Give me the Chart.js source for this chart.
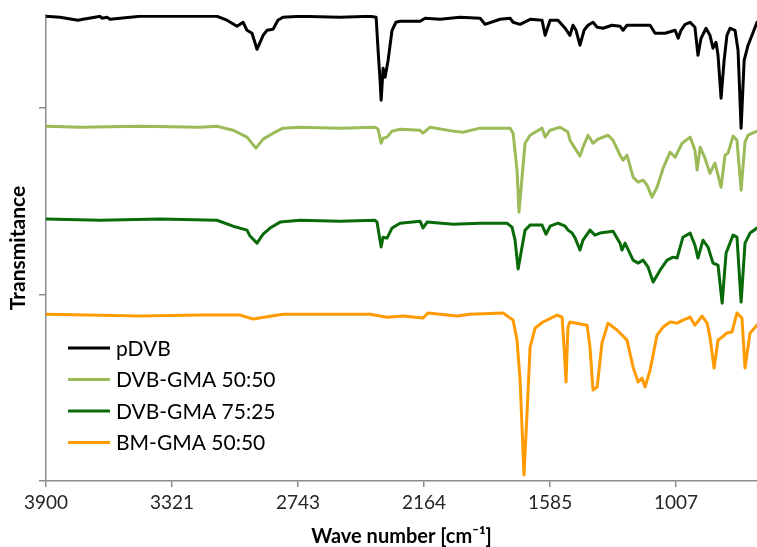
<!DOCTYPE html>
<html><head><meta charset="utf-8">
<script src="https://cdn.jsdelivr.net/npm/chart.js@4.4.1/dist/chart.umd.min.js"></script>
<style>html,body{margin:0;padding:0;background:#fff;overflow:hidden}</style>
</head><body>
<canvas id="c" width="757" height="547"></canvas>
<script>
const xTicks = [3900, 3321, 2743, 2164, 1585, 1007];
const yTicks = [0, 1, 2];
const seriesNames = ['pDVB', 'DVB-GMA 50:50', 'DVB-GMA 75:25', 'BM-GMA 50:50'];

const pDVB_wn = [3900,3836,3753,3730,3675,3652,3643,3620,3606,3468,3193,3115,3069,3023,3009,2995,2977,2954,2931,2903,2885,2857,2835,2812,2733,2550,2412,2384,2375,2366,2361,2352,2343,2329,2311,2293,2274,2182,2159,2090,1999,1907,1884,1815,1769,1755,1723,1677,1622,1608,1585,1549,1516,1494,1480,1466,1448,1429,1411,1388,1369,1342,1301,1264,1250,1232,1126,1103,1057,1011,997,984,965,942,920,906,892,869,851,837,823,814,800,786,773,759,736,722,708,694,676,658,635];
const pDVB_t = [2.493,2.488,2.472,2.477,2.488,2.493,2.483,2.488,2.477,2.493,2.493,2.493,2.472,2.440,2.450,2.461,2.418,2.402,2.316,2.391,2.418,2.424,2.472,2.488,2.493,2.488,2.493,2.488,2.311,2.150,2.043,2.214,2.166,2.257,2.418,2.461,2.466,2.466,2.483,2.477,2.488,2.483,2.450,2.477,2.483,2.461,2.450,2.477,2.472,2.391,2.472,2.472,2.429,2.391,2.445,2.418,2.338,2.418,2.445,2.461,2.434,2.429,2.445,2.440,2.418,2.445,2.445,2.402,2.402,2.418,2.375,2.418,2.450,2.461,2.434,2.284,2.375,2.429,2.391,2.322,2.354,2.284,2.054,2.257,2.391,2.429,2.418,2.311,1.893,2.257,2.338,2.391,2.461];

const g5050_wn = [3900,3744,3468,3193,3115,3041,2977,2936,2903,2857,2812,2733,2550,2389,2375,2361,2352,2334,2311,2274,2182,2169,2136,2031,1985,1907,1769,1755,1737,1728,1714,1700,1677,1622,1608,1585,1539,1516,1503,1494,1448,1434,1411,1388,1365,1319,1296,1264,1250,1232,1204,1181,1158,1140,1117,1094,1066,1034,1011,979,942,920,910,896,874,851,828,800,782,768,745,727,708,690,676,635];
const g5050_t = [1.903,1.898,1.903,1.898,1.903,1.882,1.845,1.786,1.834,1.866,1.893,1.898,1.893,1.898,1.887,1.812,1.839,1.845,1.877,1.887,1.882,1.866,1.898,1.877,1.871,1.893,1.893,1.866,1.668,1.442,1.630,1.812,1.855,1.893,1.845,1.882,1.898,1.882,1.871,1.828,1.743,1.791,1.855,1.812,1.834,1.855,1.828,1.748,1.721,1.748,1.630,1.603,1.614,1.587,1.523,1.576,1.678,1.764,1.737,1.812,1.845,1.775,1.668,1.791,1.732,1.651,1.705,1.576,1.748,1.759,1.850,1.828,1.560,1.818,1.855,1.877];

const g7525_wn = [3900,3652,3376,3115,3041,2977,2963,2931,2903,2871,2825,2733,2550,2389,2380,2361,2352,2334,2311,2274,2182,2169,2150,2031,1907,1783,1760,1746,1732,1714,1700,1677,1622,1604,1585,1549,1516,1503,1484,1470,1448,1434,1402,1379,1356,1296,1264,1255,1241,1204,1181,1158,1135,1112,1080,1048,1020,1002,975,942,920,906,883,860,837,814,795,777,768,745,727,708,690,667,635];
const g7525_t = [1.405,1.399,1.405,1.399,1.367,1.346,1.314,1.276,1.324,1.357,1.389,1.399,1.394,1.399,1.389,1.255,1.308,1.303,1.357,1.383,1.394,1.357,1.389,1.378,1.383,1.383,1.362,1.292,1.137,1.255,1.346,1.373,1.373,1.324,1.367,1.383,1.367,1.346,1.330,1.303,1.239,1.292,1.346,1.319,1.330,1.340,1.276,1.239,1.276,1.185,1.169,1.185,1.147,1.067,1.131,1.185,1.201,1.196,1.308,1.330,1.265,1.196,1.292,1.255,1.169,1.158,0.954,1.223,1.249,1.319,1.308,0.960,1.276,1.330,1.357];

const bm_wn = [3900,3468,3193,3009,2949,2812,2412,2334,2260,2169,2146,2012,1953,1801,1755,1737,1723,1705,1691,1677,1654,1618,1553,1530,1521,1512,1503,1494,1415,1402,1388,1369,1347,1319,1278,1232,1204,1181,1163,1149,1126,1094,1066,1034,1002,975,942,920,887,864,851,832,814,795,773,750,727,704,690,667,635];
const bm_t = [0.895,0.885,0.890,0.890,0.869,0.895,0.895,0.879,0.885,0.874,0.901,0.885,0.895,0.901,0.863,0.756,0.542,0.032,0.365,0.718,0.820,0.853,0.890,0.879,0.718,0.531,0.826,0.853,0.836,0.718,0.488,0.504,0.740,0.847,0.810,0.756,0.611,0.531,0.552,0.504,0.595,0.783,0.826,0.853,0.847,0.863,0.879,0.836,0.885,0.847,0.772,0.606,0.756,0.772,0.794,0.799,0.901,0.874,0.606,0.794,0.836];

const colors = ['#000000', '#9BBB59', '#086A08', '#FF9A00'];
const FONT = 'Lato, "Open Sans", sans-serif';

function pairs(xs, ys) {
  const n = Math.min(xs.length, ys.length);
  const out = [];
  for (let i = 0; i < n; i++) out.push({x: xs[i], y: ys[i]});
  return out;
}
const allSeries = [[pDVB_wn, pDVB_t], [g5050_wn, g5050_t], [g7525_wn, g7525_t], [bm_wn, bm_t]];

const legendPlugin = {
  id: 'inLegend',
  afterDraw(chart) {
    const ctx = chart.ctx;
    ctx.save();
    ctx.font = '21px ' + FONT;
    ctx.textBaseline = 'middle';
    chart.data.datasets.forEach((ds, i) => {
      const y = 348 + i * 31.5;
      ctx.strokeStyle = ds.borderColor;
      ctx.lineWidth = 3;
      ctx.beginPath(); ctx.moveTo(68, y); ctx.lineTo(110, y); ctx.stroke();
      ctx.fillStyle = '#000';
      ctx.fillText(ds.label, 116, y + 1);
    });
    ctx.restore();
  }
};

new Chart(document.getElementById('c'), {
  type: 'line',
  data: {
    datasets: allSeries.map((s, i) => ({
      label: seriesNames[i],
      data: pairs(s[0], s[1]),
      borderColor: colors[i],
      backgroundColor: colors[i],
      borderWidth: 3,
      pointRadius: 0,
      tension: 0,
      borderJoinStyle: 'round',
      borderCapStyle: 'round',
      fill: false
    }))
  },
  options: {
    responsive: false,
    animation: false,
    devicePixelRatio: 1,
    layout: {padding: {top: 15, right: 0, left: 0, bottom: 0}},
    plugins: {legend: {display: false}, tooltip: {enabled: false}},
    scales: {
      x: {
        type: 'linear',
        reverse: true,
        min: 635,
        max: 3900,
        afterBuildTicks: (scale) => { scale.ticks = xTicks.map(v => ({value: v})); },
        afterFit: (scale) => { scale.height = 66; },
        ticks: {
          autoSkip: false, maxRotation: 0, padding: 4,
          color: '#262626',
          font: {family: FONT, size: 19},
          callback: (v) => String(v)
        },
        grid: {drawOnChartArea: false, drawTicks: true, tickLength: 6, color: '#8c8c8c', lineWidth: 1.5},
        border: {display: true, color: '#8c8c8c', width: 1.5},
        title: {display: true, text: 'Wave number [cm\u207B\u00B9]', color: '#000',
          font: {family: FONT, size: 20, weight: 'bold', lineHeight: 1.0}, padding: {top: 0, bottom: 0}}
      },
      y: {
        type: 'linear',
        min: 0,
        max: 2.5,
        afterBuildTicks: (scale) => { scale.ticks = yTicks.map(v => ({value: v})); },
        afterFit: (scale) => { scale.width = 46; },
        ticks: {display: false},
        grid: {drawOnChartArea: false, drawTicks: true, tickLength: 7, color: '#8c8c8c', lineWidth: 1.5},
        border: {display: true, color: '#8c8c8c', width: 1.5},
        title: {display: true, text: 'Transmitance', color: '#000',
          font: {family: FONT, size: 21, weight: 'bold', lineHeight: 1.2}, padding: {top: 6, bottom: 0}}
      }
    }
  },
  plugins: [legendPlugin]
});
</script>
</body></html>
